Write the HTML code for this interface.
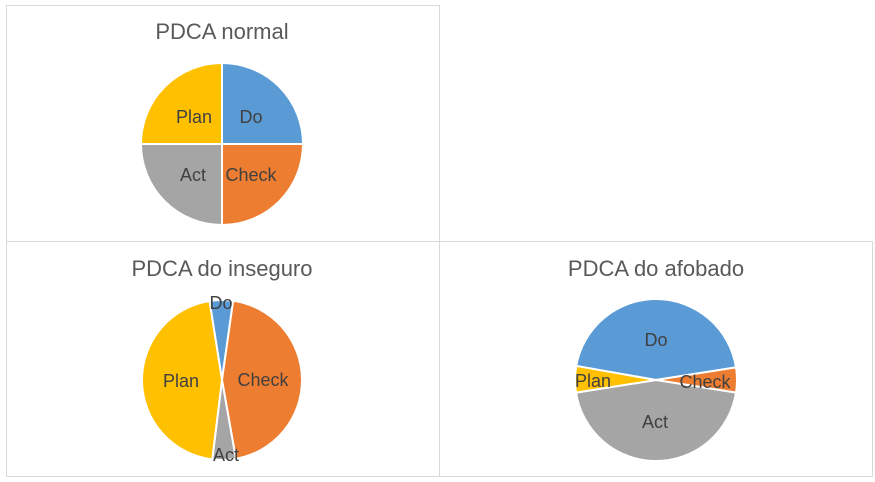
<!DOCTYPE html>
<html><head><meta charset="utf-8"><style>
body{margin:0;background:#fff;width:875px;height:482px;overflow:hidden}
svg{display:block;font-family:"Liberation Sans",sans-serif}
</style></head><body>
<svg id="s" width="875" height="482" xmlns="http://www.w3.org/2000/svg">
<rect x="6.5" y="5.5" width="433" height="236" fill="#fff" stroke="#d9d9d9"/>
<rect x="6.5" y="241.5" width="433" height="235" fill="#fff" stroke="#d9d9d9"/>
<rect x="439.5" y="241.5" width="433" height="235" fill="#fff" stroke="#d9d9d9"/>
<g id="pies"></g>
<g fill="#595959" font-size="22" text-anchor="middle">
<text x="222" y="39">PDCA normal</text>
<text x="222" y="276">PDCA do inseguro</text>
<text x="656" y="276">PDCA do afobado</text>
</g>
<g fill="#404040" font-size="18" text-anchor="middle">
<text x="194" y="123">Plan</text><text x="251" y="123">Do</text>
<text x="193" y="181">Act</text><text x="251" y="181">Check</text>
<text x="221" y="309">Do</text><text x="263" y="386">Check</text>
<text x="181" y="387">Plan</text><text x="226" y="461">Act</text>
<text x="656" y="346">Do</text><text x="593" y="387">Plan</text>
<text x="705" y="388">Check</text><text x="655" y="428">Act</text>
</g>
</svg>
<script>
function pie(cx,cy,r,sl){var g=document.getElementById('pies'),h='';
sl.forEach(function(s){var a=s[0]*Math.PI/180,b=s[1]*Math.PI/180;
var x1=cx+r*Math.sin(a),y1=cy-r*Math.cos(a),x2=cx+r*Math.sin(b),y2=cy-r*Math.cos(b);
var l=(s[1]-s[0])>180?1:0;
h+='<path d="M'+cx+','+cy+'L'+x1+','+y1+'A'+r+','+r+' 0 '+l+' 1 '+x2+','+y2+'Z" fill="'+s[2]+'" stroke="#fff" stroke-width="2" stroke-linejoin="round"/>';});
g.innerHTML+=h;}
var B='#5b9bd5',O='#ed7d31',G='#a5a5a5',Y='#ffc000';
pie(222,144,81,[[0,90,B],[90,180,O],[180,270,G],[270,360,Y]]);
pie(222,380,80,[[-9,8,B],[8,170,O],[170,187,G],[187,351,Y]]);
pie(656,380,81,[[-80,81,B],[81,99,O],[99,261,G],[261,280,Y]]);
</script>
</body></html>
